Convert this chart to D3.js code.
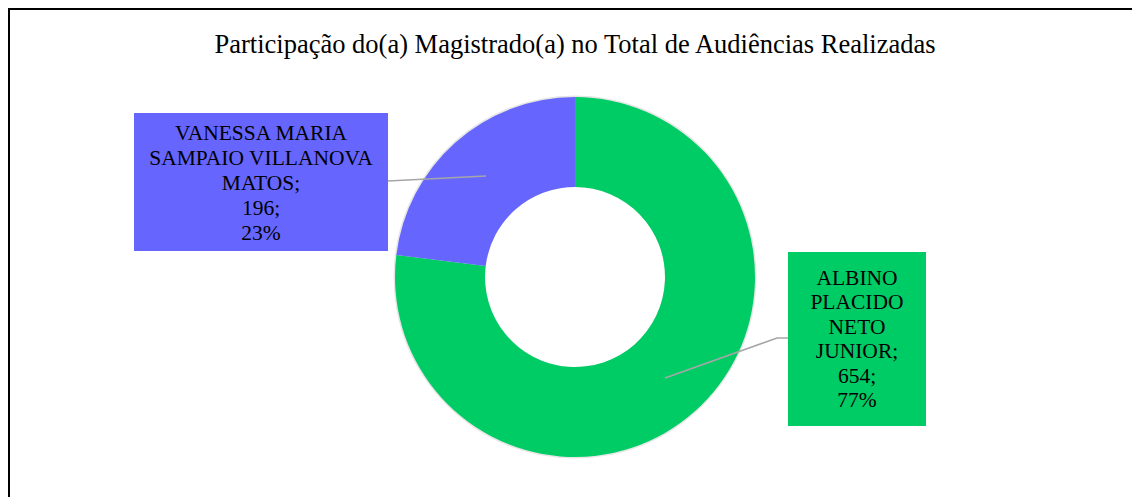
<!DOCTYPE html>
<html><head><meta charset="utf-8">
<script src="https://cdn.jsdelivr.net/npm/d3@7"></script>
</head><body style="margin:0">
<svg id="c" width="1132" height="497"></svg>
<script>
const title = "Participação do(a) Magistrado(a) no Total de Audiências Realizadas";
const categories = ["ALBINO PLACIDO NETO JUNIOR", "VANESSA MARIA SAMPAIO VILLANOVA MATOS"];
const values = [654, 196];
const colors = ["#00CC66", "#6666FF"];
const labelLines = [
  ["ALBINO", "PLACIDO", "NETO", "JUNIOR;", "654;", "77%"],
  ["VANESSA MARIA", "SAMPAIO VILLANOVA", "MATOS;", "196;", "23%"]
];

const svg = d3.select("#c");
const FONT = '"Liberation Serif", "Times New Roman", serif';

svg.append("rect").attr("x", 9).attr("y", 9).attr("width", 1140).attr("height", 500)
  .attr("fill", "none").attr("stroke", "#000").attr("stroke-width", 2);

svg.append("text").attr("x", 575).attr("y", 53).attr("text-anchor", "middle")
  .style("font-family", FONT).style("font-size", "26.5px").text(title);

const cx = 575, cy = 277, R = 180, r = 90;

const pie = d3.pie().sort(null).value(d => d);
const arcs = pie(values);
const arc = d3.arc().innerRadius(r).outerRadius(R);
const g = svg.append("g").attr("transform", `translate(${cx},${cy})`);
g.append("circle").attr("r", R + 1.5).attr("fill", "#e6e6e6");
g.append("circle").attr("r", r).attr("fill", "#fff");
g.selectAll("path.s").data(arcs).join("path").attr("class", "s").attr("d", arc)
  .attr("fill", (d, i) => colors[i]);

const boxes = [
  {x: 788, y: 252, w: 138, h: 174, lh: 24.45, first: 285, leader: [[665, 378], [777, 338], [788, 338]]},
  {x: 134, y: 113, w: 254, h: 138, lh: 24.9, first: 140, leader: [[388, 181], [486, 176]]}
];
boxes.forEach((b, i) => {
  svg.append("path").attr("d", d3.line()(b.leader)).attr("fill", "none")
    .attr("stroke", "#A6A6A6").attr("stroke-width", 1.5);
  svg.append("rect").attr("x", b.x).attr("y", b.y).attr("width", b.w).attr("height", b.h).attr("fill", colors[i]);
  labelLines[i].forEach((ln, j) => {
    svg.append("text").attr("x", b.x + b.w / 2).attr("y", b.first + j * b.lh)
      .attr("text-anchor", "middle")
      .style("font-family", FONT).style("font-size", "21.5px").text(ln);
  });
});
</script>
</body></html>
